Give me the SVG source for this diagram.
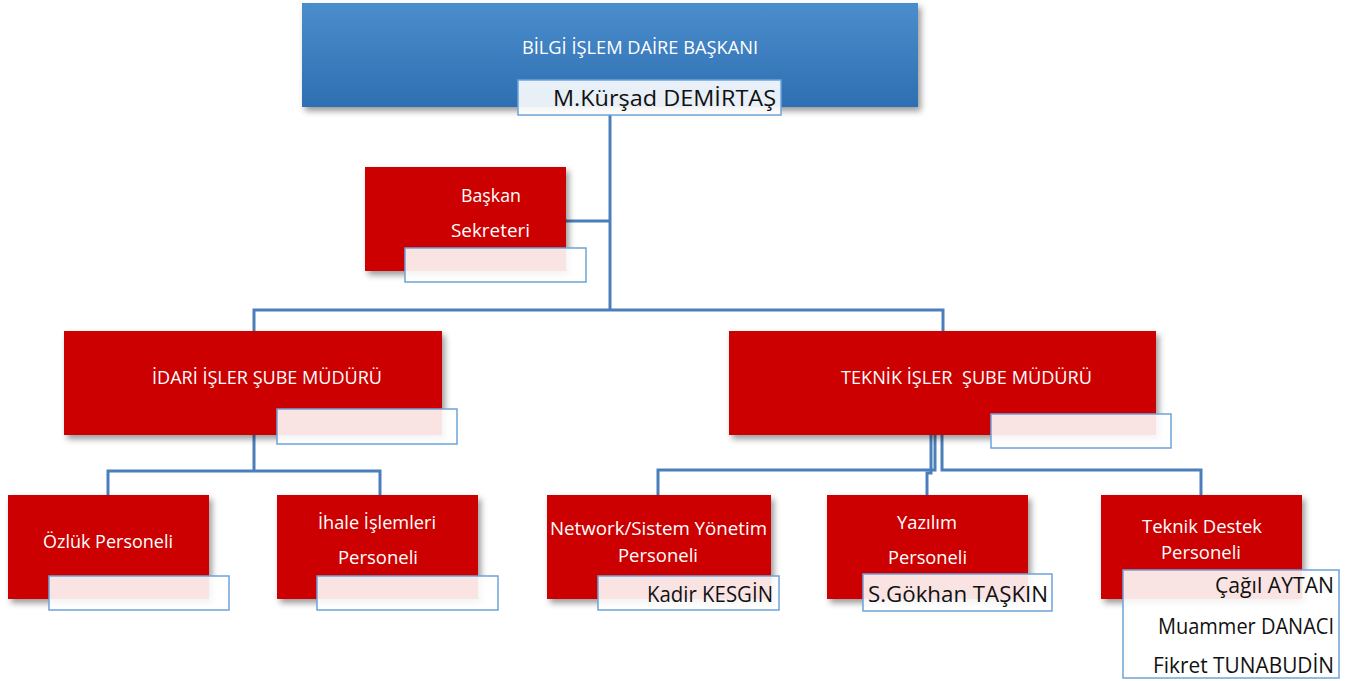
<svg xmlns="http://www.w3.org/2000/svg" width="1364" height="681" viewBox="0 0 1364 681">
<defs>
<linearGradient id="blueGrad" x1="0" y1="0" x2="0" y2="1">
<stop offset="0" stop-color="#4b8dcc"/>
<stop offset="1" stop-color="#2e6fb2"/>
</linearGradient>
<filter id="shadow" x="-10%" y="-10%" width="125%" height="135%">
<feDropShadow dx="3" dy="4" stdDeviation="3" flood-color="#000" flood-opacity="0.4"/>
</filter>
<style>
.red{fill:#cc0000;filter:url(#shadow)}
.top{fill:url(#blueGrad);filter:url(#shadow)}
.name{fill:#fff;fill-opacity:0.89;stroke:#6fa3d9;stroke-width:1.5}
.wt{fill:#fff;font-family:"Open Sans","Noto Sans",sans-serif;font-size:18px}
.bt{fill:#111;font-family:"Open Sans","Noto Sans",sans-serif;font-size:22px}
.conn{fill:none;stroke:#4a7fbb;stroke-width:3}
</style>
</defs>
<rect width="1364" height="681" fill="#fff"/>
<g id="connectors" class="conn">
<path d="M610,115 V310"/>
<path d="M566,221 H610"/>
<path d="M254,331 V310 H943 V331"/>
<path d="M254,435 V471"/>
<path d="M108,495 V471 H380 V495"/>
<path d="M935,435 V470 H658 V495"/>
<path d="M931,435 V473 H927 V495"/>
<path d="M942,435 V470 H1201 V495"/>
</g>
<g id="node-baskan">
<rect class="top" x="302" y="3" width="616" height="104"/>
<text class="wt" x="522" y="54" font-size="17" textLength="236" lengthAdjust="spacingAndGlyphs">BİLGİ İŞLEM DAİRE BAŞKANI</text>
<rect class="name" x="518" y="80" width="263" height="35"/>
<text class="bt" x="553" y="106" textLength="223" lengthAdjust="spacingAndGlyphs">M.Kürşad DEMİRTAŞ</text>
</g>
<g id="node-sekreter">
<rect class="red" x="365" y="167" width="201" height="104"/>
<text class="wt" x="461" y="202" textLength="60" lengthAdjust="spacingAndGlyphs">Başkan</text>
<text class="wt" x="451" y="237" textLength="79" lengthAdjust="spacingAndGlyphs">Sekreteri</text>
<rect class="name" x="405" y="248" width="181" height="34"/>
</g>
<g id="node-idari">
<rect class="red" x="64" y="331" width="378" height="104"/>
<text class="wt" x="152" y="384" textLength="230" lengthAdjust="spacingAndGlyphs">İDARİ İŞLER ŞUBE MÜDÜRÜ</text>
<rect class="name" x="277" y="409" width="180" height="35"/>
</g>
<g id="node-teknik">
<rect class="red" x="729" y="331" width="427" height="104"/>
<text class="wt" x="841" y="384" textLength="251" lengthAdjust="spacingAndGlyphs" xml:space="preserve">TEKNİK İŞLER  ŞUBE MÜDÜRÜ</text>
<rect class="name" x="991" y="414" width="180" height="34"/>
</g>
<g id="node-ozluk">
<rect class="red" x="8" y="495" width="201" height="104"/>
<text class="wt" x="43" y="548" textLength="130" lengthAdjust="spacingAndGlyphs">Özlük Personeli</text>
<rect class="name" x="49" y="576" width="180" height="34"/>
</g>
<g id="node-ihale">
<rect class="red" x="277" y="495" width="201" height="104"/>
<text class="wt" x="318" y="529" textLength="118" lengthAdjust="spacingAndGlyphs">İhale İşlemleri</text>
<text class="wt" x="338" y="564" textLength="80" lengthAdjust="spacingAndGlyphs">Personeli</text>
<rect class="name" x="317" y="576" width="181" height="34"/>
</g>
<g id="node-network">
<rect class="red" x="547" y="495" width="224" height="104"/>
<text class="wt" x="550" y="535" textLength="217" lengthAdjust="spacingAndGlyphs">Network/Sistem Yönetim</text>
<text class="wt" x="618" y="562" textLength="80" lengthAdjust="spacingAndGlyphs">Personeli</text>
<rect class="name" x="598" y="576" width="181" height="34"/>
<text class="bt" x="647" y="602" textLength="126" lengthAdjust="spacingAndGlyphs">Kadir KESGİN</text>
</g>
<g id="node-yazilim">
<rect class="red" x="827" y="495" width="201" height="104"/>
<text class="wt" x="897" y="529" textLength="60" lengthAdjust="spacingAndGlyphs">Yazılım</text>
<text class="wt" x="888" y="564" textLength="79" lengthAdjust="spacingAndGlyphs">Personeli</text>
<rect class="name" x="863" y="574" width="189" height="37"/>
<text class="bt" x="868" y="602" textLength="180" lengthAdjust="spacingAndGlyphs">S.Gökhan TAŞKIN</text>
</g>
<g id="node-destek">
<rect class="red" x="1101" y="495" width="201" height="104"/>
<text class="wt" x="1142" y="533" textLength="120" lengthAdjust="spacingAndGlyphs">Teknik Destek</text>
<text class="wt" x="1161" y="559" textLength="80" lengthAdjust="spacingAndGlyphs">Personeli</text>
<rect class="name" x="1123" y="570" width="216" height="108"/>
<text class="bt" x="1215" y="593" textLength="119" lengthAdjust="spacingAndGlyphs">Çağıl AYTAN</text>
<text class="bt" x="1158" y="634" textLength="176" lengthAdjust="spacingAndGlyphs">Muammer DANACI</text>
<text class="bt" x="1153" y="673" textLength="181" lengthAdjust="spacingAndGlyphs">Fikret TUNABUDİN</text>
</g>
</svg>
